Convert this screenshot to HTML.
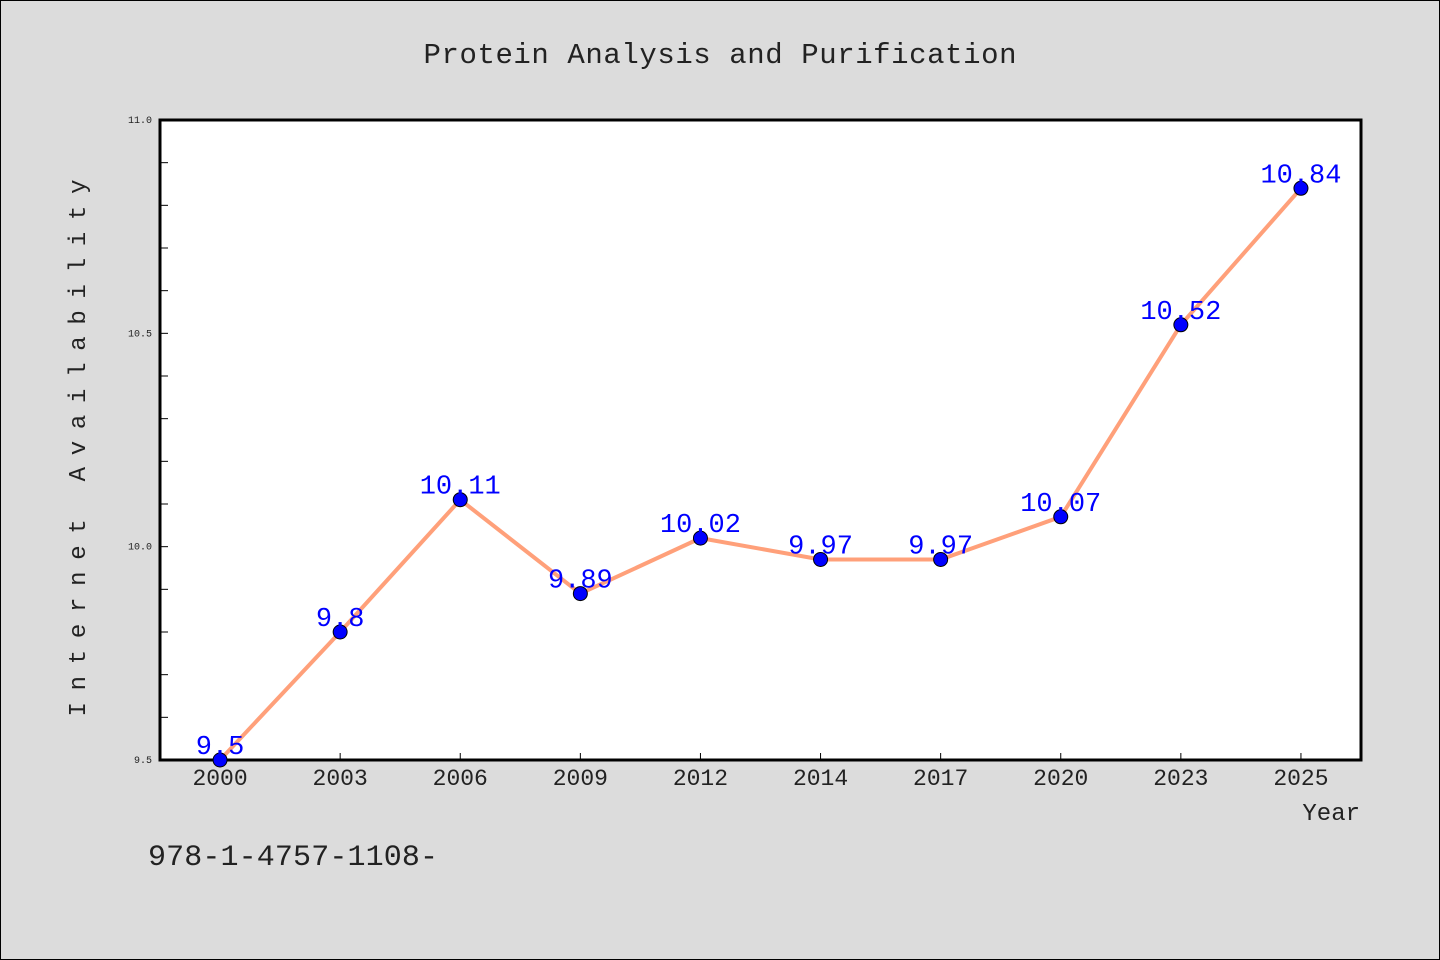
<!DOCTYPE html>
<html><head><meta charset="utf-8"><style>
body{margin:0;background:#dcdcdc;}
svg{display:block;font-family:"Liberation Mono","WenQuanYi Zen Hei",monospace;}
</style></head><body>
<svg id="c" width="1440" height="960">
<rect x="0.5" y="0.5" width="1439" height="959" fill="#dcdcdc" stroke="#000"/>
<text x="720" y="63" text-anchor="middle" font-size="29" textLength="593" fill="#222">Protein Analysis and Purification</text>
<rect x="160" y="120" width="1201" height="640" fill="#fff"/>
<g id="grid"></g>
<rect x="160" y="120" width="1201" height="640" fill="none" stroke="#000" stroke-width="3"/>
<text x="85" y="448" transform="rotate(-90 85 448)" text-anchor="middle" font-size="24" textLength="537" fill="#222">Internet Availability</text>
<text x="1360" y="820" text-anchor="end" font-size="24" fill="#222">Year</text>
<text x="148" y="865" font-size="30" textLength="290" fill="#222">978-1-4757-1108-</text>
<g id="marks"></g>
</svg>
<script>
const categories=["2000","2003","2006","2009","2012","2014","2017","2020","2023","2025"];
const values=[9.5,9.8,10.11,9.89,10.02,9.97,9.97,10.07,10.52,10.84];
const yTicks=[9.5,10.0,10.5,11.0];
const yMin=9.5,yMax=11.0;
const L=160,R=1361,T=120,B=760;
const NS="http://www.w3.org/2000/svg";
function xs(i){return L+(R-L)/categories.length*(i+0.5);}
function ys(v){return B-(v-yMin)/(yMax-yMin)*(B-T);}
function mk(t,a,p){const e=document.createElementNS(NS,t);for(const k in a)e.setAttribute(k,a[k]);p.appendChild(e);return e;}
const g=document.getElementById('grid'),m=document.getElementById('marks');
for(let k=0;k<=15;k++){const v=yMin+k*0.1;const y=ys(v);
const t=mk('line',{x1:L,x2:L+8,y1:y,y2:y,stroke:'#000','stroke-width':1},g);

}
yTicks.forEach(v=>{const t=mk('text',{x:L-8,y:ys(v)+3,'text-anchor':'end','font-size':10,fill:'#222'},g);t.textContent=v.toFixed(1);

});
categories.forEach((c,i)=>{const x=xs(i);
const tk=mk('line',{x1:x,x2:x,y1:B,y2:B-7,stroke:'#000','stroke-width':1},g);


const t=mk('text',{x:x,y:B+25,'text-anchor':'middle','font-size':23,fill:'#222'},g);t.textContent=c;

});
const pl=mk('polyline',{points:values.map((v,i)=>xs(i)+','+ys(v)).join(' '),fill:'none',stroke:'#ffa07a','stroke-width':4},m);


values.forEach((v,i)=>{
const c=mk('circle',{cx:xs(i),cy:ys(v),r:7,fill:'#0000ff',stroke:'#000','stroke-width':1},m);


const t=mk('text',{x:xs(i),y:ys(v)-6,'text-anchor':'middle','font-size':27,fill:'#0000ff'},m);t.textContent=String(v);

});
</script>
</body></html>
